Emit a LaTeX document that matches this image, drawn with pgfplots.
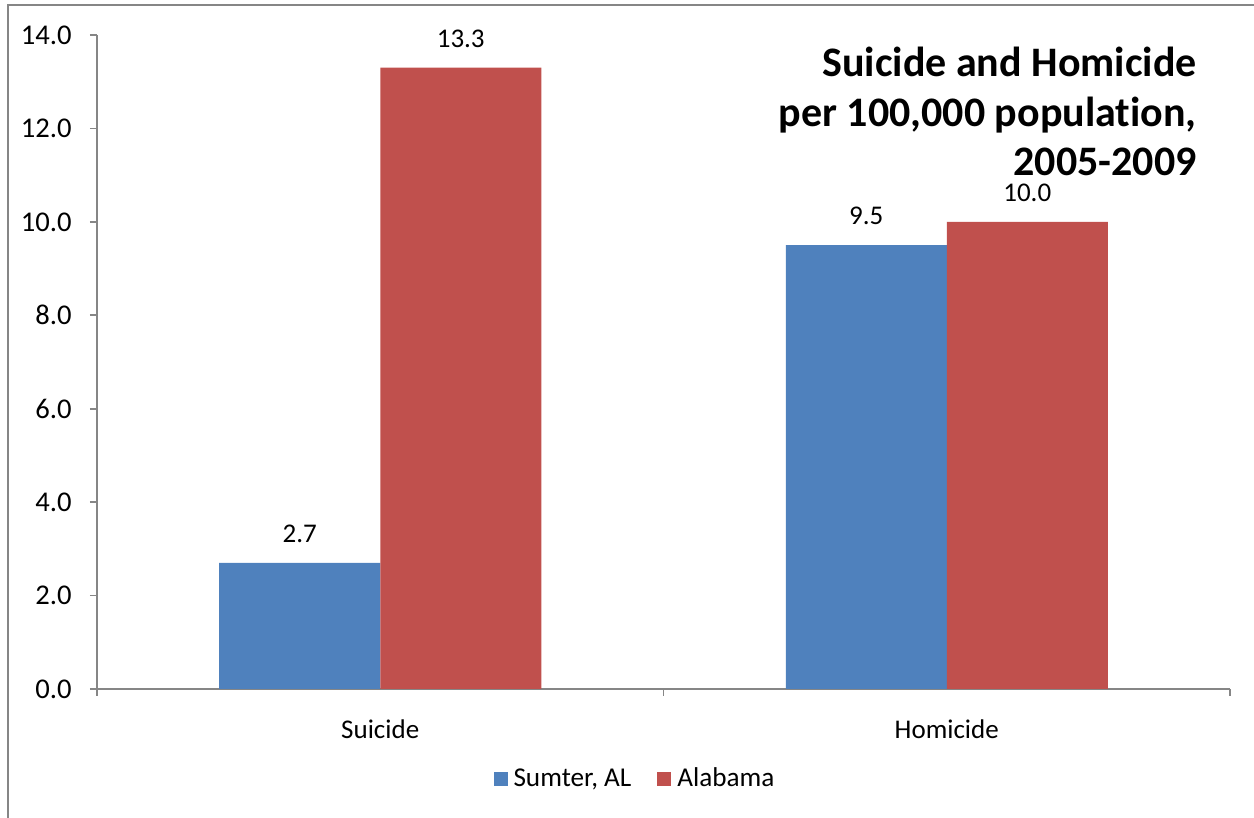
\documentclass[border=0pt]{standalone}
\usepackage{pgfplots}
\pgfplotsset{compat=1.18}
\usepackage{fontspec}
\setmainfont{Carlito}[Ligatures={NoCommon,NoContextual}, Contextuals=NoAlternate]
\definecolor{barblue}{RGB}{79,129,189}
\definecolor{barred}{RGB}{192,80,77}
\definecolor{axgray}{RGB}{134,134,134}
\newcommand{\lblfont}{\fontsize{13.5}{16}\selectfont}
\begin{document}
\begin{tikzpicture}
\useasboundingbox (0,0) rectangle (627pt,409pt);
\draw[axgray, line width=1pt] (4pt,0) -- (4pt,406.5pt) -- (627pt,406.5pt);
\begin{axis}[
  at={(48.5pt,64.5pt)}, anchor=south west,
  scale only axis, width=566.5pt, height=327pt,
  ybar=0pt, bar width=80.5pt,
  xmin=-0.5, xmax=1.5, ymin=0, ymax=14,
  axis lines*=left,
  axis line style={axgray, line width=0.8pt},
  xtick={0,1}, xticklabels={Suicide,Homicide},
  minor xtick={-0.5,0.5,1.5},
  major x tick style={draw=none},
  minor tick length=3.5pt,
  ytick={0,2,4,6,8,10,12,14},
  yticklabels={0.0,2.0,4.0,6.0,8.0,10.0,12.0,14.0},
  major tick length=3.5pt,
  tick align=outside,
  tick style={axgray, line width=0.8pt},
  /pgf/number format/assume math mode=true,
  tick label style={font=\lblfont},
  yticklabel style={font=\fontsize{14.3}{17}\selectfont, anchor=east, inner sep=0pt, xshift=-9pt},
  xticklabel style={font=\lblfont, anchor=base, inner sep=0pt, yshift=-21.5pt},
  nodes near coords={\pgfmathprintnumber[fixed,fixed zerofill,precision=1,assume math mode=true]{\pgfplotspointmeta}},
  every node near coord/.append style={font=\lblfont, anchor=south, inner sep=0pt, yshift=10pt, black},
  legend columns=2,
  legend style={at={(0.4766,-0.1376)}, anchor=center, draw=none, fill=none,
    font=\fontsize{13.6}{16}\selectfont,
    /tikz/every odd column/.append style={column sep=0pt},
    /tikz/every even column/.append style={column sep=10pt},
    nodes={inner sep=3pt}},
  legend image code/.code={\fill[#1] (0pt,-3.5pt) rectangle (7pt,3.5pt);},
  clip=false,
]
\addplot[fill=barblue, draw=none] coordinates {(0,2.7) (1,9.5)};
\addplot[fill=barred, draw=none] coordinates {(0,13.3) (1,10.0)};
\legend{{Sumter, AL},Alabama}
\end{axis}
\node[anchor=base east, font=\fontsize{21}{25}\selectfont\bfseries, inner sep=0pt] at (598.5pt,370.5pt) {Suicide and Homicide};
\node[anchor=base east, font=\fontsize{21}{25}\selectfont\bfseries, inner sep=0pt] at (598.5pt,345.5pt) {per 100,000 populat\kern0pt ion,};
\node[anchor=base east, font=\fontsize{21}{25}\selectfont\bfseries, inner sep=0pt] at (598.5pt,321pt) {2005-2009};
\end{tikzpicture}
\end{document}
